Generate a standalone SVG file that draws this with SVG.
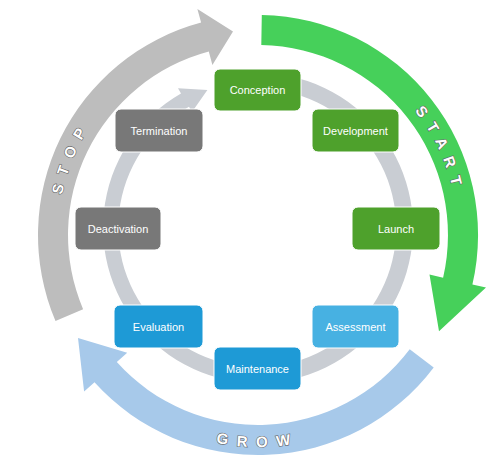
<svg xmlns="http://www.w3.org/2000/svg" width="503" height="470" viewBox="0 0 503 470">
<style>
.n{stroke:#fff;stroke-width:1}
.t{font-family:"Liberation Sans",Arial,sans-serif;font-size:11px;fill:#fff;text-anchor:middle;dominant-baseline:central}
.big{font-family:"Liberation Sans",Arial,sans-serif;font-size:15px;font-weight:bold;fill:#fff;letter-spacing:9px;text-anchor:middle;stroke:#666;stroke-width:1.2;paint-order:stroke}
</style>
<defs>
<path id="pStart" d="M358,61.8 A200,200 0 0 1 455,269.7"/>
<path id="pStop" d="M70.1,303.4 A200,200 0 0 1 173.5,53.7"/>
<path id="pGrow" d="M121.7,397.4 A212,212 0 0 0 394.3,397.4"/>
</defs>
<rect width="503" height="470" fill="#fff"/>
<g id="connectors">
<path id="inner-ring" fill="#c9cdd3" d="M271.7,73.6 A155,155 0 1 1 181,93.5 L178,88.3 L207.4,89.9 L192,112 L189,106.8 A139,139 0 1 0 270.1,89.5 Z"/>
<path id="start-arrow" fill="#46d05a" d="M261.8,15 A220,220 0 0 1 472.4,284.5 L486,287.6 L439,331.2 L429.5,274.6 L443.1,277.7 A190,190 0 0 0 261.3,45 Z"/>
<path id="stop-arrow" fill="#bdbdbd" d="M55.5,321 A220,220 0 0 1 201.1,22.5 L197.4,9 L233,31.5 L212.4,65 L208.8,51.5 A190,190 0 0 0 83.1,309.2 Z"/>
<path id="grow-arrow" fill="#a7c9ea" d="M433.7,367.4 A220,220 0 0 1 94.5,382.2 L84.1,391.6 L78,338 L127.2,352.8 L116.8,362.1 A190,190 0 0 0 409.7,349.3 Z"/>
<text class="big"><textPath href="#pStart" startOffset="50%">START</textPath></text>
<text class="big"><textPath href="#pStop" startOffset="50%">STOP</textPath></text>
<text class="big"><textPath href="#pGrow" startOffset="50%">GROW</textPath></text>
</g>
<g id="conception"><rect class="n" x="214" y="69" width="87" height="42" rx="6" fill="#4ea12c"/><text class="t" x="257.5" y="90">Conception</text></g>
<g id="development"><rect class="n" x="312" y="109" width="87" height="43" rx="6" fill="#4ea12c"/><text class="t" x="355.5" y="130.5">Development</text></g>
<g id="launch"><rect class="n" x="352" y="207" width="88" height="43" rx="6" fill="#4ea12c"/><text class="t" x="396" y="228.5">Launch</text></g>
<g id="termination"><rect class="n" x="115" y="109" width="88" height="43" rx="6" fill="#787878"/><text class="t" x="159" y="130.5">Termination</text></g>
<g id="deactivation"><rect class="n" x="75" y="207" width="86" height="43" rx="6" fill="#787878"/><text class="t" x="118" y="228.5">Deactivation</text></g>
<g id="evaluation"><rect class="n" x="114" y="305" width="89" height="43" rx="6" fill="#1e9ad6"/><text class="t" x="158.5" y="326.5">Evaluation</text></g>
<g id="assessment"><rect class="n" x="312" y="305" width="87" height="43" rx="6" fill="#47b1e2"/><text class="t" x="355.5" y="326.5">Assessment</text></g>
<g id="maintenance"><rect class="n" x="214" y="347" width="87" height="43" rx="6" fill="#1e9ad6"/><text class="t" x="257.5" y="368.5">Maintenance</text></g>
</svg>
